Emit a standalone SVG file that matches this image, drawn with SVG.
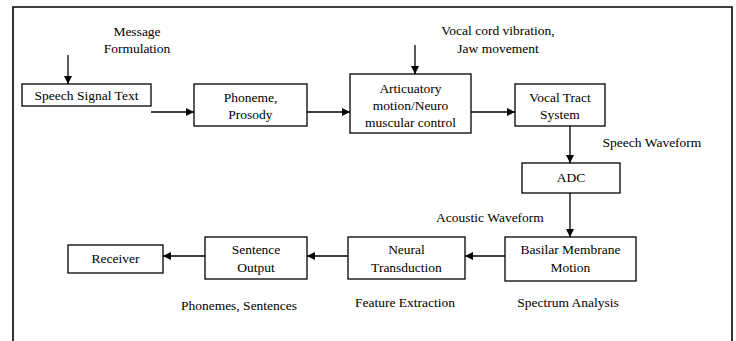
<svg xmlns="http://www.w3.org/2000/svg" width="736" height="341" viewBox="0 0 736 341">
<style>
.box{fill:#fff;stroke:#000;stroke-width:1.3}
text{font-family:'Liberation Serif','Times New Roman',Times,serif;font-size:13.5px;fill:#000;text-anchor:middle}
.c{stroke:#000;stroke-width:1.3;fill:none;marker-end:url(#ah)}
</style>
<defs>
<marker id="ah" viewBox="0 0 10 10" refX="10" refY="5" markerWidth="8" markerHeight="8" markerUnits="userSpaceOnUse" orient="auto">
<path d="M0,0 L10,5 L0,10 z" fill="#000"/>
</marker>
</defs>
<rect width="736" height="341" fill="#fff"/>
<path d="M13,345 L13,7 L732,7 L732,345" fill="none" stroke="#000" stroke-width="1.6"/>
<g id="connectors">
<line class="c" x1="68" y1="55" x2="68" y2="84"/>
<line class="c" x1="151" y1="112" x2="194" y2="112"/>
<line class="c" x1="307" y1="112" x2="350" y2="112"/>
<line class="c" x1="415" y1="45" x2="415" y2="74"/>
<line class="c" x1="471" y1="112" x2="515" y2="112"/>
<line class="c" x1="570" y1="126" x2="570" y2="163"/>
<line class="c" x1="570" y1="193" x2="570" y2="237"/>
<line class="c" x1="505" y1="256" x2="465" y2="256"/>
<line class="c" x1="348" y1="256" x2="307" y2="256"/>
<line class="c" x1="205" y1="256" x2="163" y2="256"/>
</g>
<g id="labels">
<text x="137" y="36">Message</text>
<text x="137" y="53">Formulation</text>
<text x="498" y="35">Vocal cord vibration,</text>
<text x="498" y="53">Jaw movement</text>
<text x="652" y="147">Speech Waveform</text>
<text x="490" y="222">Acoustic Waveform</text>
<text x="568" y="307">Spectrum Analysis</text>
<text x="405" y="307">Feature Extraction</text>
<text x="239" y="310">Phonemes, Sentences</text>
</g>
<g id="speech-signal-text">
<rect class="box" x="22" y="84" width="129" height="22"/>
<text x="86.5" y="100">Speech Signal Text</text>
</g>
<g id="phoneme-prosody">
<rect class="box" x="194" y="84" width="113" height="42"/>
<text x="250.5" y="102">Phoneme,</text>
<text x="250.5" y="119">Prosody</text>
</g>
<g id="articulatory">
<rect class="box" x="350" y="74" width="121" height="59"/>
<text x="410.5" y="93">Articuatory</text>
<text x="410.5" y="110">motion/Neuro</text>
<text x="410.5" y="127">muscular control</text>
</g>
<g id="vocal-tract">
<rect class="box" x="515" y="84" width="90" height="42"/>
<text x="560" y="102">Vocal Tract</text>
<text x="560" y="119">System</text>
</g>
<g id="adc">
<rect class="box" x="522" y="163" width="98" height="30"/>
<text x="571" y="182">ADC</text>
</g>
<g id="basilar">
<rect class="box" x="505" y="237" width="131" height="44"/>
<text x="570.5" y="254">Basilar Membrane</text>
<text x="570.5" y="272">Motion</text>
</g>
<g id="neural">
<rect class="box" x="348" y="237" width="117" height="42"/>
<text x="406.5" y="254">Neural</text>
<text x="406.5" y="272">Transduction</text>
</g>
<g id="sentence-output">
<rect class="box" x="205" y="237" width="102" height="42"/>
<text x="256" y="254">Sentence</text>
<text x="256" y="272">Output</text>
</g>
<g id="receiver">
<rect class="box" x="68" y="245" width="95" height="28"/>
<text x="115.5" y="263">Receiver</text>
</g>
</svg>
